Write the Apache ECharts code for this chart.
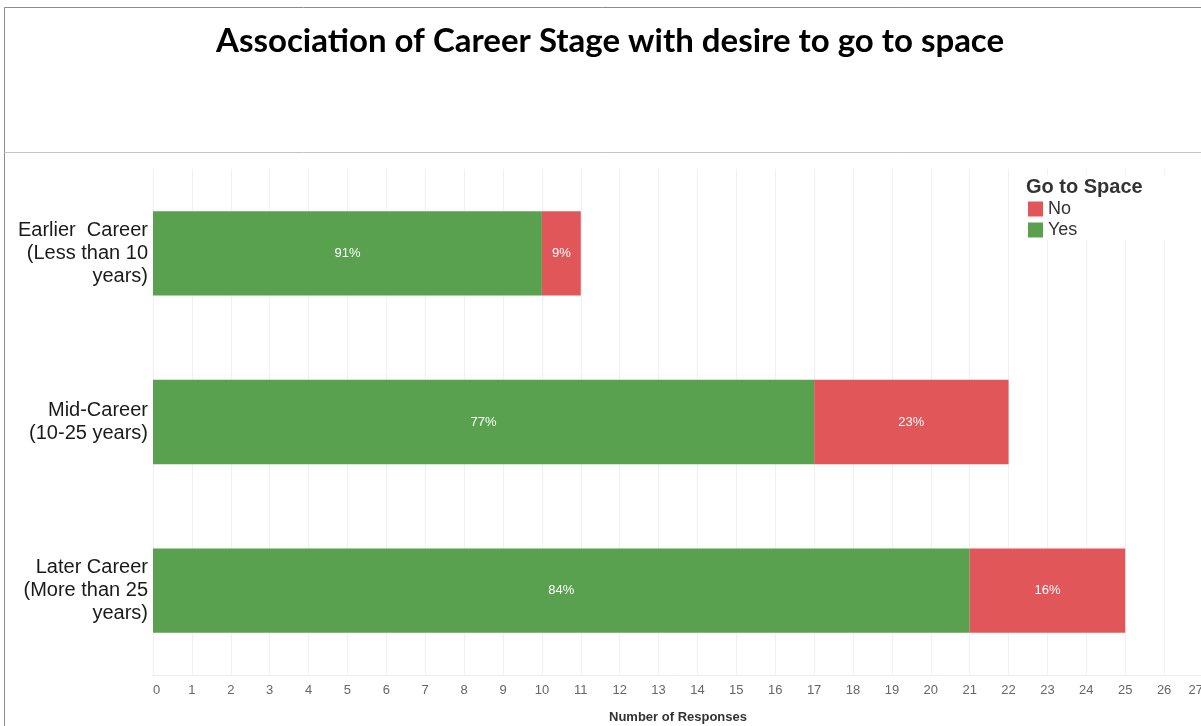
<!DOCTYPE html>
<html>
<head>
<meta charset="utf-8">
<script src="https://cdn.jsdelivr.net/npm/echarts@6/dist/echarts.min.js"></script>
<style>
html,body{margin:0;padding:0;background:#fff;}
#c{width:1201px;height:726px;}
</style>
</head>
<body>
<div id="c"></div>
<script>
var categories = ['Earlier  Career\n(Less than 10\nyears)', 'Mid-Career\n(10-25 years)', 'Later Career\n(More than 25\nyears)'];
var yesValues = [10, 17, 21];
var noValues = [1, 5, 4];
var xTicks = [0, 27, 1];

var totals = yesValues.map(function (v, i) { return v + noValues[i]; });
function pct(p) { return Math.round(p.value / totals[p.dataIndex] * 100) + '%'; }

var chart = echarts.init(document.getElementById('c'), null, {renderer: 'canvas'});
var labelStyle = {show: true, position: 'inside', color: '#ffffff', fontSize: 13, fontFamily: 'Liberation Sans, Arial', formatter: pct};

chart.setOption({
  animation: false,
  backgroundColor: '#ffffff',
  grid: {left: 153, top: 169, height: 506, width: 1050, containLabel: false, outerBoundsMode: 'none'},
  legend: {
    orient: 'vertical', left: 1028, top: 200, itemWidth: 15, itemHeight: 15, itemGap: 3, padding: 0,
    icon: 'rect', data: ['No', 'Yes'], z: 20,
    textStyle: {fontSize: 18, color: '#333333', fontFamily: 'Liberation Sans, Arial'}
  },
  xAxis: {
    type: 'value', min: xTicks[0], max: xTicks[1], interval: xTicks[2],
    name: 'Number of Responses', nameLocation: 'middle', nameGap: 36,
    nameTextStyle: {fontSize: 13, fontWeight: 'bold', color: '#333333', fontFamily: 'Liberation Sans, Arial'},
    axisLine: {show: true, lineStyle: {color: '#eeeeee'}},
    axisTick: {show: false},
    axisLabel: {fontSize: 13, color: '#666666', margin: 9, fontFamily: 'Liberation Sans, Arial', alignMinLabel: 'left', alignMaxLabel: 'right'},
    splitLine: {show: true, lineStyle: {color: '#f0f0f0', width: 1}}
  },
  yAxis: {
    type: 'category', data: categories, inverse: true,
    axisLine: {show: false}, axisTick: {show: false},
    axisLabel: {fontSize: 20, lineHeight: 23, color: '#1a1a1a', margin: 5, align: 'right', fontFamily: 'Liberation Sans, Arial'}
  },
  series: [
    {name: 'Yes', type: 'bar', stack: 'a', data: yesValues, barCategoryGap: '50%', itemStyle: {color: '#59A14F'}, label: labelStyle},
    {name: 'No', type: 'bar', stack: 'a', data: noValues, itemStyle: {color: '#E15759'}, label: labelStyle}
  ],
  graphic: [
    {type: 'rect', shape: {x: 1015, y: 175, width: 186, height: 65}, style: {fill: '#ffffff'}, z: 10},
    {type: 'line', shape: {x1: 4.5, y1: 7.5, x2: 1201, y2: 7.5}, style: {stroke: '#8c8c8c', lineWidth: 1}, z: 100},
    {type: 'line', shape: {x1: 4.5, y1: 7.5, x2: 4.5, y2: 726}, style: {stroke: '#8c8c8c', lineWidth: 1}, z: 100},
    {type: 'line', shape: {x1: 4.5, y1: 152.5, x2: 1201, y2: 152.5}, style: {stroke: '#c4c4c4', lineWidth: 1}, z: 100},
    {type: 'text', left: 216, top: 25, style: {text: 'Association of Career Stage with desire to go to space', fontSize: 33, fontWeight: 'bold', fill: '#000000', fontFamily: 'Lato'}, z: 100},
    {type: 'text', left: 1026, top: 177, style: {text: 'Go to Space', fontSize: 20, fontWeight: 'bold', fill: '#333333', fontFamily: 'Liberation Sans, Arial'}, z: 100}
  ]
});
</script>
</body>
</html>
